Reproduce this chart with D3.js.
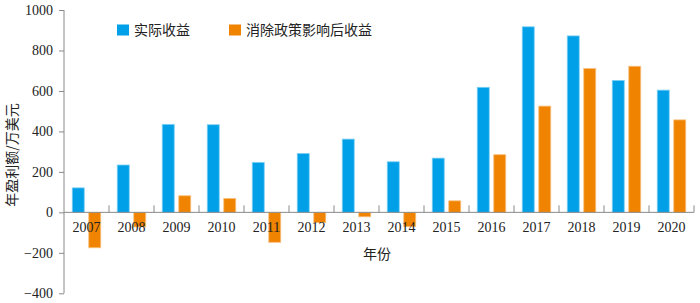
<!DOCTYPE html>
<html>
<head>
    <meta charset="utf-8">
    <script src="https://d3js.org/d3.v7.min.js"></script>
    <style>
        body { margin: 0; background: #fff; }
        .tick text { font-family: "Liberation Serif", "DejaVu Serif", serif; font-size: 14px; fill: #222; }
        .cn { font-family: "Noto Sans CJK SC", sans-serif; font-size: 14px; fill: #222; }
    </style>
</head>
<body>
    <div id="chart"></div>
    <script>
        var years = ["2007", "2008", "2009", "2010", "2011", "2012", "2013", "2014", "2015", "2016", "2017", "2018", "2019", "2020"];
        var actual = [121, 234, 435, 433, 247, 291, 362, 250, 268, 618, 917, 872, 652, 604];
        var adjusted = [-175, -72, 82, 69, -148, -51, -22, -71, 57, 285, 525, 711, 722, 457];
        var seriesNames = ["实际收益", "消除政策影响后收益"];
        var yTicks = [-400, -200, 0, 200, 400, 600, 800, 1000];
        var colors = ["#00a0e9", "#f08300"];
        var strokes = ["#7fd0f4", "#f8c080"];

        var svg = d3.select("#chart")
            .append("svg")
            .attr("width", 700)
            .attr("height", 303);

        var y = d3.scaleLinear().domain([-400, 1000]).range([293.3, 10]);
        var x = d3.scaleBand().domain(years).range([64, 694]);
        var xs = d3.scaleBand().domain([0, 1]).range([0, x.bandwidth()])
            .paddingInner(0.273).paddingOuter(0.5);

        // y axis
        var yAxis = svg.append("g")
            .attr("transform", "translate(64,0)")
            .call(d3.axisLeft(y).tickValues(yTicks).tickSize(5).tickPadding(6)
                .tickFormat(function (d) { return d < 0 ? "\u2212" + Math.abs(d) : d; }));
        yAxis.select(".domain").attr("stroke", "#8a8a8a").attr("d", "M0,10V293.3");
        yAxis.selectAll(".tick line").attr("stroke", "#8a8a8a");

        // bars
        var rows = years.map(function (yr, i) { return { year: yr, vals: [actual[i], adjusted[i]] }; });
        var grp = svg.selectAll(".yr")
            .data(rows)
            .enter()
            .append("g")
            .attr("transform", function (d) { return "translate(" + x(d.year) + ",0)"; });
        grp.selectAll("rect")
            .data(function (d) { return d.vals; })
            .enter()
            .append("rect")
            .attr("x", function (d, i) { return xs(i); })
            .attr("width", xs.bandwidth())
            .attr("y", function (d) { return y(Math.max(0, d)); })
            .attr("height", function (d) { return Math.abs(y(d) - y(0)); })
            .attr("fill", function (d, i) { return colors[i]; })
            .attr("stroke", function (d, i) { return strokes[i]; })
            .attr("stroke-width", 0.8);

        // x axis (category line, boundary ticks pointing up)
        var xAxis = svg.append("g")
            .attr("transform", "translate(0," + y(0) + ")")
            .call(d3.axisBottom(x).tickSize(0).tickPadding(10));
        xAxis.select(".domain").attr("stroke", "#8a8a8a").attr("d", "M64,0H694");
        var bounds = years.map(function (yr) { return x(yr) + x.bandwidth(); });
        xAxis.selectAll(".bnd")
            .data(bounds)
            .enter()
            .append("line")
            .attr("x1", function (d) { return d; })
            .attr("x2", function (d) { return d; })
            .attr("y1", 0)
            .attr("y2", -7)
            .attr("stroke", "#8a8a8a");

        // titles
        svg.append("text")
            .attr("class", "cn")
            .attr("transform", "translate(17,155) rotate(-90)")
            .attr("text-anchor", "middle")
            .text("年盈利额/万美元");
        svg.append("text")
            .attr("class", "cn")
            .attr("x", 377)
            .attr("y", 259)
            .attr("text-anchor", "middle")
            .text("年份");

        // legend
        var legX = [117, 229];
        seriesNames.forEach(function (name, i) {
            svg.append("rect")
                .attr("x", legX[i])
                .attr("y", 24.5)
                .attr("width", 12)
                .attr("height", 11)
                .attr("fill", colors[i]);
            svg.append("text")
                .attr("class", "cn")
                .attr("x", legX[i] + 17)
                .attr("y", 35)
                .text(name);
        });
    </script>
</body>
</html>
